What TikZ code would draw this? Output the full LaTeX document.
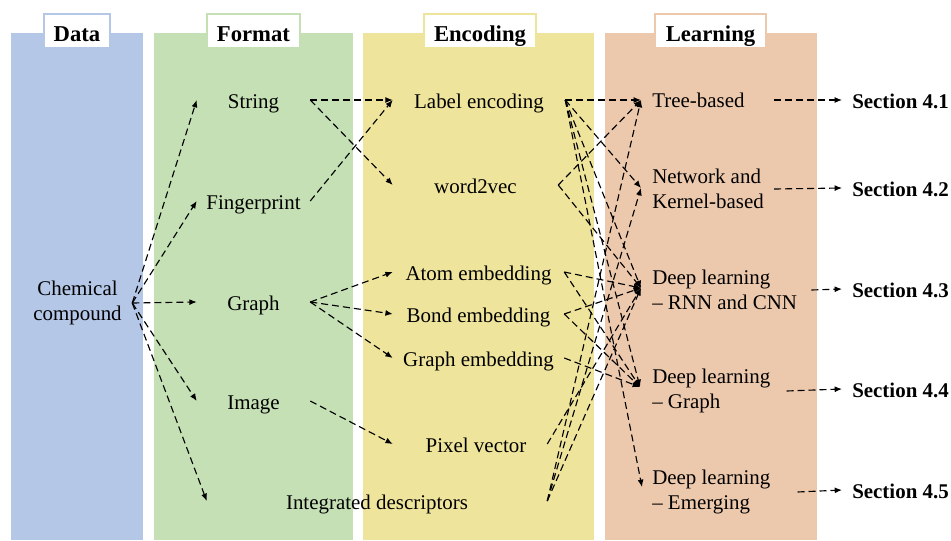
\documentclass[tikz,border=0pt]{standalone}
\usepackage{fontspec}
\setmainfont{Liberation Serif}
\usetikzlibrary{arrows.meta,calc}

\definecolor{databg}{HTML}{B4C7E7}
\definecolor{fmtbg}{HTML}{C5E0B4}
\definecolor{encbg}{HTML}{EFE49B}
\definecolor{lrnbg}{HTML}{ECC8AC}

\begin{document}
\begin{tikzpicture}[x=0.75pt,y=-0.75pt,
  body/.style={font=\fontsize{15.7}{18.75}\selectfont, inner sep=0pt},
  one/.style={body, text height=13.5pt, text depth=1.5pt},
  fmt/.style={one, minimum width=84.75pt},
  enc/.style={one, minimum width=#1},
  lrn/.style={body, anchor=west, inner xsep=8.25pt, inner ysep=0pt, align=left},
  sec/.style={anchor=west, inner xsep=7.5pt, inner ysep=0pt,
    font=\fontsize{15.7}{18.75}\selectfont\bfseries, text height=13.5pt, text depth=1.5pt},
  ttl/.style={font=\fontsize{17}{20}\selectfont\bfseries, inner sep=0pt, text height=12pt, text depth=0pt},
  conn/.style={dash pattern=on 5.25pt off 3pt, line width=0.85pt, -{Latex[length=5.5pt,width=4.5pt]}},
  colbox/.style={fill=#1, draw=none},
  tabbox/.style={fill=white, draw=#1, line width=1.6pt},
]
\useasboundingbox (0,0) rectangle (951,540);

% column backgrounds
\fill[colbox=databg] (11,33) rectangle (143,540);
\fill[colbox=fmtbg]  (154,33) rectangle (353,540);
\fill[colbox=encbg]  (363,33) rectangle (594,540);
\fill[colbox=lrnbg]  (605,33) rectangle (817,540);

% column headers
\draw[tabbox=databg] (44,14) rectangle (110,48);
\draw[tabbox=fmtbg]  (207,14) rectangle (300,48);
\draw[tabbox=encbg]  (424,14) rectangle (536,48);
\draw[tabbox=lrnbg]  (655,14) rectangle (766,48);
\node[ttl] (tData) at (77,33) {Data};
\node[ttl] (tFormat) at (253.5,33) {Format};
\node[ttl] (tEncoding) at (480,33) {Encoding};
\node[ttl] (tLearning) at (710.5,33) {Learning};

% data
\node[body, align=center, minimum width=81.75pt] (chem) at (77.5,303) {Chemical\\compound};

% formats
\node[fmt] (str) at (253.5,100) {String};
\node[fmt] (fp)  at (253.5,201) {Fingerprint};
\node[fmt] (gr)  at (253.5,302) {Graph};
\node[fmt] (img) at (253.5,401) {Image};
\node[one, minimum width=255pt] (intd) at (377,501) {Integrated descriptors};

% encodings
\node[enc=129pt]    (lab)  at (479,100)   {Label encoding};
\node[enc=123.75pt] (wv)   at (475.5,185) {word2vec};
\node[enc=128.25pt] (atom) at (478.5,272) {Atom embedding};
\node[enc=128.25pt] (bond) at (478.5,314) {Bond embedding};
\node[enc=128.25pt] (gemb) at (478.5,358) {Graph embedding};
\node[enc=124.5pt]  (pix)  at (476,444)   {Pixel vector};

% learning methods
\node[lrn] (tree) at (641,100) {Tree-based};
\node[lrn] (netk) at (641,189) {Network and\\Kernel-based};
\node[lrn] (rnn)  at (641,290) {Deep learning\\– RNN and CNN};
\node[lrn] (dlg)  at (641,391) {Deep learning\\– Graph};
\node[lrn] (emg)  at (641,492) {Deep learning\\– Emerging};

% sections
\node[sec] (s1) at (842,100) {Section 4.1};
\node[sec] (s2) at (842,188) {Section 4.2};
\node[sec] (s3) at (842,289) {Section 4.3};
\node[sec] (s4) at (842,389) {Section 4.4};
\node[sec] (s5) at (842,490) {Section 4.5};

% named ports where arrows meet the learning nodes
\coordinate (treeIn) at (641,100);
\coordinate (netkIn) at (641,188);
\coordinate (rnnIn)  at (641,288);
\coordinate (dlgIn)  at (640,387);
\coordinate (emgIn)  at (642,487);

% data -> format
\foreach \t in {str,fp,gr,img,intd}
  \draw[conn] (chem.east) -- (\t.west);

% format -> encoding
\draw[conn] (str.east) -- (lab.west);
\draw[conn] (str.east) -- (wv.west);
\draw[conn] (fp.east) -- (lab.west);
\draw[conn] (gr.east) -- (atom.west);
\draw[conn] (gr.east) -- (bond.west);
\draw[conn] (gr.east) -- (gemb.west);
\draw[conn] (img.east) -- (pix.west);

% encoding -> learning
\foreach \t in {tree,netk,rnn,dlg,emg}
  \draw[conn] (lab.east) -- (\t In);
\draw[conn] (wv.east) -- (treeIn);
\draw[conn] (wv.east) -- (rnnIn);
\draw[conn] (atom.east) -- (rnnIn);
\draw[conn] (atom.east) -- (dlgIn);
\draw[conn] (bond.east) -- (rnnIn);
\draw[conn] (bond.east) -- (dlgIn);
\draw[conn] (gemb.east) -- (dlgIn);
\draw[conn] ([xshift=-9pt]pix.east) -- (rnnIn);
\foreach \t in {tree,netk,rnn}
  \draw[conn] (intd.east) -- (\t In);

% learning -> sections
\draw[conn] ([xshift=13.5pt]tree.east) -- (s1.west);
\draw[conn] ([xshift=-0.75pt]netk.east) -- (s2.west);
\draw[conn] ([xshift=2.25pt]rnn.east) -- (s3.west);
\draw[conn] ([xshift=3.75pt]dlg.east) -- (s4.west);
\draw[conn] ([xshift=12pt]emg.east) -- (s5.west);
\end{tikzpicture}
\end{document}
